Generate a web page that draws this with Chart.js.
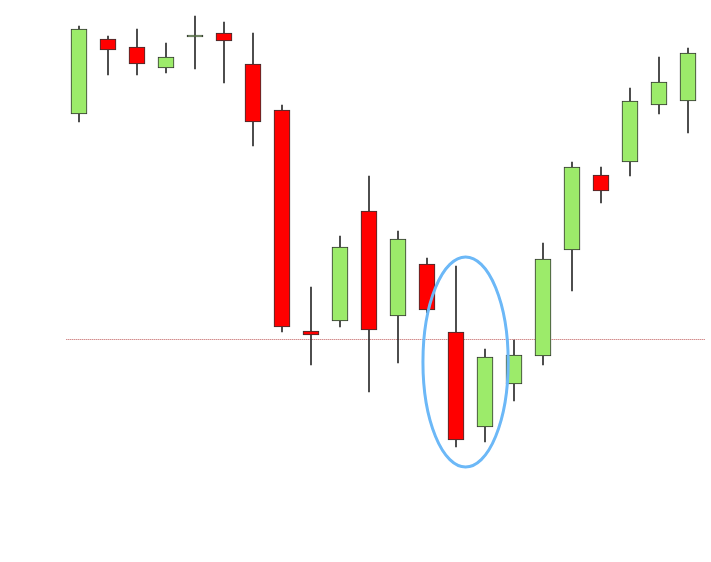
<!DOCTYPE html>
<html>
<head>
<meta charset="utf-8">
<script src="https://cdn.jsdelivr.net/npm/chart.js@4.4.1/dist/chart.umd.min.js"></script>
<style>
  html, body { margin: 0; padding: 0; background: #ffffff; }
  #wrap { width: 711px; height: 562px; }
</style>
</head>
<body>
<div id="wrap"><canvas id="c" width="711" height="562"></canvas></div>
<script>
// Candles (price units)
const categories = ['1','2','3','4','5','6','7','8','9','10','11','12','13','14','15','16','17','18','19','20','21','22'];
const opens  = [44.8, 52.3, 51.5, 49.4, 52.5, 52.9, 49.8, 45.2, 23.1, 24.1, 35.1, 24.6, 29.8, 23.0, 13.5, 17.8, 20.6, 31.2, 38.7, 40.0, 45.7, 46.1];
const closes = [53.3, 51.2, 49.8, 50.5, 52.7, 52.1, 44.0, 23.5, 22.7, 31.5, 23.2, 32.3, 25.2, 12.2, 20.5, 20.7, 30.3, 39.5, 37.1, 46.1, 48.0, 50.9];
const highs  = [53.6, 52.6, 53.3, 51.9, 54.6, 54.0, 52.9, 45.7, 27.5, 32.6, 38.6, 33.1, 30.4, 29.6, 21.3, 22.2, 31.9, 40.0, 39.5, 47.4, 50.5, 51.4];
const lows   = [44.0, 48.7, 48.7, 48.9, 49.3, 47.9, 41.6, 23.0, 19.7, 23.5, 17.0, 19.9, 24.9, 11.5, 12.0, 16.1, 19.7, 27.1, 35.9, 38.6, 44.8, 42.9];
const referenceLevel = 22.3;           // dotted horizontal line
const highlight = { center: 13.33, halfWidth: 1.47, mid: 20.0, halfHeight: 10.5 }; // ellipse (category index / price)

const upColor = '#9CEB6A';
const downColor = '#FF0000';
const bodyData = opens.map((o, i) => [Math.min(o, closes[i]), Math.max(o, closes[i])]);
const wickData = highs.map((h, i) => [lows[i], h]);
const bodyColors = opens.map((o, i) => closes[i] >= o ? upColor : downColor);

const overlay = {
  id: 'overlay',
  beforeDatasetsDraw(chart) {
    const { ctx, chartArea, scales } = chart;
    const y = Math.round(scales.y.getPixelForValue(referenceLevel));
    ctx.save();
    for (let x = Math.round(chartArea.left + 1), k = 0; x < chartArea.right + 2; x++, k++) {
      ctx.fillStyle = (k % 2 === 0) ? '#d28e8e' : '#ecc9c9';
      ctx.fillRect(x, y, 1, 1);
    }
    ctx.restore();
  },
  afterDatasetsDraw(chart) {
    const { ctx, scales } = chart;
    const cx = scales.x.getPixelForValue(highlight.center);
    const x1 = scales.x.getPixelForValue(highlight.center + highlight.halfWidth);
    const cy = scales.y.getPixelForValue(highlight.mid);
    const y1 = scales.y.getPixelForValue(highlight.mid + highlight.halfHeight);
    ctx.save();
    ctx.strokeStyle = '#6cb8f7';
    ctx.lineWidth = 3;
    ctx.beginPath();
    ctx.ellipse(cx, cy, Math.abs(x1 - cx), Math.abs(cy - y1), 0, 0, Math.PI * 2);
    ctx.stroke();
    ctx.restore();
  }
};

new Chart(document.getElementById('c'), {
  type: 'bar',
  data: {
    labels: categories,
    datasets: [
      {
        label: 'wick',
        data: wickData,
        backgroundColor: '#2a2a2a',
        borderWidth: 0,
        barThickness: 1,
        grouped: false,
        order: 2
      },
      {
        label: 'body',
        data: bodyData,
        backgroundColor: bodyColors,
        borderColor: '#333333',
        borderWidth: 1,
        borderSkipped: false,
        barThickness: 16,
        grouped: false,
        order: 1
      }
    ]
  },
  options: {
    responsive: false,
    animation: false,
    layout: { padding: { left: 64.5, right: 8.5, top: 0, bottom: 0 } },
    plugins: { legend: { display: false }, tooltip: { enabled: false } },
    scales: {
      x: { display: false, offset: true },
      y: { display: false, min: 0, max: 56.2 }
    }
  },
  plugins: [overlay]
});
</script>
</body>
</html>
